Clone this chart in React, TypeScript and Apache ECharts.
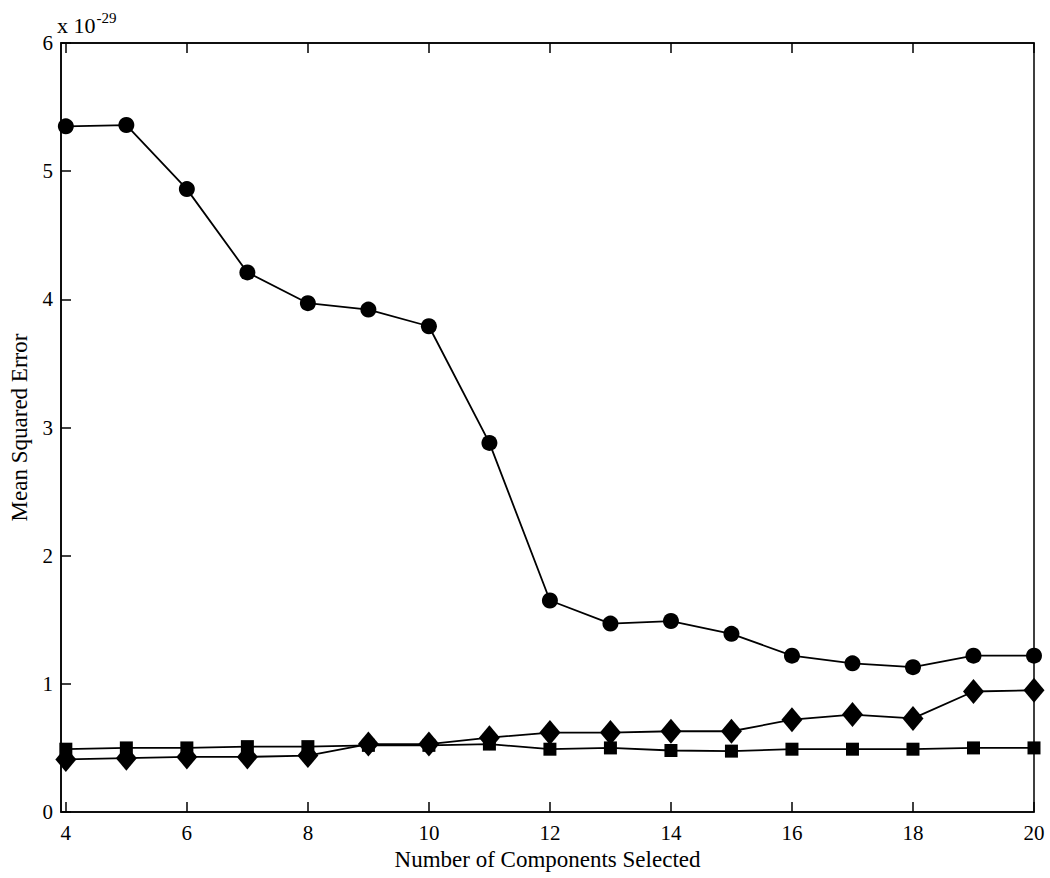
import React, { useEffect, useRef } from "react";
import * as echarts from "echarts";

const components = [4, 5, 6, 7, 8, 9, 10, 11, 12, 13, 14, 15, 16, 17, 18, 19, 20];
const circleSeries = [5.35, 5.36, 4.86, 4.21, 3.97, 3.92, 3.79, 2.88, 1.65, 1.47, 1.49, 1.39, 1.22, 1.16, 1.13, 1.22, 1.22];
const squareSeries = [0.49, 0.5, 0.5, 0.51, 0.51, 0.52, 0.52, 0.53, 0.49, 0.5, 0.48, 0.475, 0.49, 0.49, 0.49, 0.5, 0.5];
const diamondSeries = [0.41, 0.42, 0.43, 0.43, 0.44, 0.53, 0.53, 0.58, 0.62, 0.62, 0.63, 0.63, 0.72, 0.76, 0.73, 0.94, 0.95];
const xTicks = [4, 6, 8, 10, 12, 14, 16, 18, 20];
const yTicks = [0, 1, 2, 3, 4, 5, 6];

const FONT = "Liberation Serif";

export default function App() {
  const ref = useRef<HTMLDivElement>(null);
  useEffect(() => {
    if (!ref.current) return;
    const chart = echarts.init(ref.current, null, { renderer: "svg" });
    const pairs = (vals: number[]) => components.map((c, i) => [c, vals[i]]);
    const lineStyle = { color: "#000", width: 1.8 };
    chart.setOption({
      animation: false,
      backgroundColor: "#fff",
      grid: {
        left: 57,
        top: 43,
        right: 16,
        bottom: 66,
        show: true,
        borderColor: "#000",
        borderWidth: 1.5,
      },
      xAxis: [
        {
          type: "value",
          min: 3.92,
          max: 20,
          position: "bottom",
          splitLine: { show: false },
          axisLine: { show: true, lineStyle: { color: "#000", width: 1.5 } },
          axisTick: { show: true, inside: true, length: 10, customValues: xTicks, lineStyle: { color: "#000", width: 1.5 } },
          axisLabel: { customValues: xTicks, color: "#000", fontFamily: FONT, fontSize: 21, margin: 10 },
          name: "Number of Components Selected",
          nameLocation: "middle",
          nameGap: 34,
          nameTextStyle: { color: "#000", fontFamily: FONT, fontSize: 23 },
        },
        {
          type: "value",
          min: 3.92,
          max: 20,
          position: "top",
          splitLine: { show: false },
          axisLine: { show: true, lineStyle: { color: "#000", width: 1.5 } },
          axisTick: { show: true, inside: true, length: 10, customValues: xTicks, lineStyle: { color: "#000", width: 1.5 } },
          axisLabel: { show: false },
        },
      ],
      yAxis: {
        type: "value",
        min: 0,
        max: 6,
        interval: 1,
        splitLine: { show: false },
        axisLine: { show: true, lineStyle: { color: "#000", width: 1.5 } },
        axisTick: { show: true, inside: true, length: 10, customValues: yTicks, lineStyle: { color: "#000", width: 1.5 } },
        axisLabel: { color: "#000", fontFamily: FONT, fontSize: 21, margin: 8 },
        name: "Mean Squared Error",
        nameLocation: "middle",
        nameGap: 30,
        nameTextStyle: { color: "#000", fontFamily: FONT, fontSize: 23 },
      },
      graphic: [
        {
          type: "text",
          left: 57,
          top: 10,
          style: {
            text: "{a|x 10}{b|-29}",
            rich: {
              a: { fontFamily: FONT, fontSize: 22, fill: "#000", verticalAlign: "bottom", lineHeight: 26 },
              b: { fontFamily: FONT, fontSize: 15, fill: "#000", verticalAlign: "top", lineHeight: 26, padding: [0, 0, 12, 1] },
            },
          },
        },
      ],
      series: [
        {
          type: "line",
          data: pairs(circleSeries),
          symbol: "circle",
          symbolSize: 16,
          itemStyle: { color: "#000" },
          lineStyle,
          z: 3,
        },
        {
          type: "line",
          data: pairs(squareSeries),
          symbol: "rect",
          symbolSize: 13,
          itemStyle: { color: "#000" },
          lineStyle,
          z: 3,
        },
        {
          type: "line",
          data: pairs(diamondSeries),
          symbol: "diamond",
          symbolSize: [21, 25],
          itemStyle: { color: "#000" },
          lineStyle,
          z: 4,
        },
      ],
    });
    return () => chart.dispose();
  }, []);
  return (
    <div
      ref={ref}
      style={{ position: "fixed", left: 0, top: 0, width: 1050, height: 878, background: "#fff" }}
    />
  );
}
